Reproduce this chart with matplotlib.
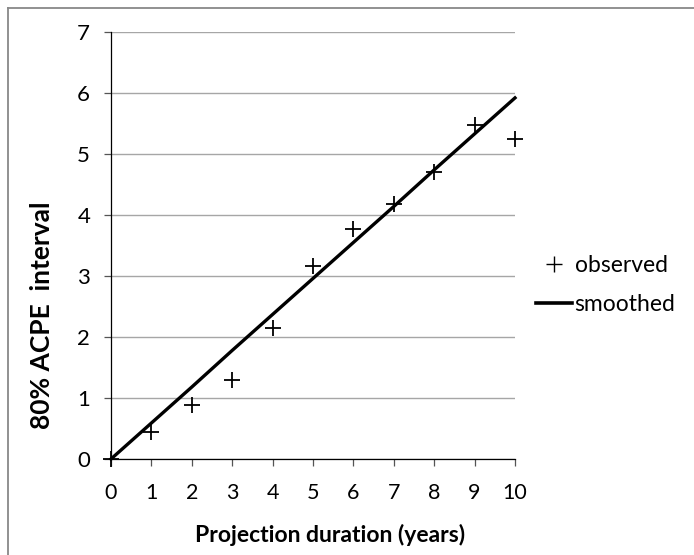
import matplotlib
matplotlib.use("Agg")
import matplotlib.pyplot as plt
from matplotlib.lines import Line2D

years = [0, 1, 2, 3, 4, 5, 6, 7, 8, 9, 10]
observed = [0.0, 0.45, 0.88, 1.29, 2.15, 3.17, 3.77, 4.18, 4.70, 5.48, 5.25]
smoothed = [0.0, 0.59, 1.18, 1.78, 2.37, 2.96, 3.55, 4.14, 4.74, 5.33, 5.92]
x_ticks = [0, 1, 2, 3, 4, 5, 6, 7, 8, 9, 10]
y_ticks = [0, 1, 2, 3, 4, 5, 6, 7]

plt.rcParams['font.family'] = ['Lato', 'DejaVu Sans']

fig = plt.figure(figsize=(6.94, 5.55), dpi=100)
ax = fig.add_axes([111/694, 1-459/555, 404/694, 427/555])

ax.set_xlim(0, 10)
ax.set_ylim(0, 7)
ax.set_xticks(x_ticks)
ax.set_yticks(y_ticks)
ax.yaxis.grid(True, color='#a6a6a6', linewidth=1.0)
ax.set_axisbelow(True)
for s in ['top', 'right']:
    ax.spines[s].set_visible(False)
for s in ['left', 'bottom']:
    ax.spines[s].set_color('#000000')
    ax.spines[s].set_linewidth(0.9)
ax.tick_params(axis='both', direction='out', length=5, width=0.9, color='#555555',
               labelcolor='#000000')
ax.tick_params(axis='y', pad=10, labelsize=16)
ax.tick_params(axis='x', pad=12, labelsize=15.5)

ax.plot(years, smoothed, color='black', linewidth=2.4, clip_on=False, zorder=3)
ax.plot(years, observed, linestyle='none', marker='+', markersize=12, markeredgewidth=1.3,
        color='black', clip_on=False, zorder=4)

ax.set_xlabel('Projection duration (years)', fontsize=16.5, fontweight='bold')
ax.set_ylabel('80% ACPE  interval', fontsize=19, fontweight='bold')
ax.xaxis.set_label_coords((330-111)/404, -(524-459)/427)
ax.yaxis.set_label_coords(-(111-54)/404, (459-315)/427)

handles = [Line2D([], [], linestyle='none', marker='+', markersize=12, markeredgewidth=1.0, color='black'),
           Line2D([], [], color='black', linewidth=2.6)]
fig.legend(handles, ['observed', 'smoothed'], loc='center left',
           bbox_to_anchor=(515/694, 1-285/555), frameon=False, fontsize=16.5,
           handlelength=1.6, handletextpad=0.1, labelspacing=0.75, borderpad=0.4)

# figure border (top and left, as in reference)
fig.add_artist(Line2D([8/694, 1.0], [1-8/555, 1-8/555], transform=fig.transFigure,
                      color='#888888', linewidth=1.3))
fig.add_artist(Line2D([8/694, 8/694], [0.0, 1-8/555], transform=fig.transFigure,
                      color='#888888', linewidth=1.3))

fig.savefig('out.png', dpi=100)
